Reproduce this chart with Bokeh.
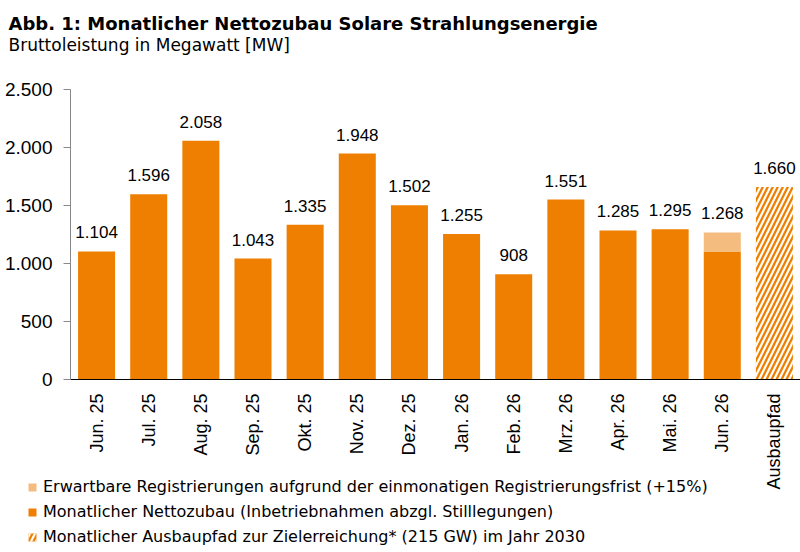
import math
from bokeh.plotting import figure
from bokeh.models import (Range1d, FixedTicker, ColumnDataSource,
                          Label, Legend, LegendItem)
from bokeh.core.properties import value
from bokeh.embed import file_html
from bokeh.resources import INLINE

# ---- data ----
categories = ["Jun. 25", "Jul. 25", "Aug. 25", "Sep. 25", "Okt. 25", "Nov. 25",
              "Dez. 25", "Jan. 26", "Feb. 26", "Mrz. 26", "Apr. 26", "Mai. 26",
              "Jun. 26"]
netto = [1104, 1596, 2058, 1043, 1335, 1948, 1502, 1255, 908, 1551, 1285, 1295, 1103]
erwartbar = [0, 0, 0, 0, 0, 0, 0, 0, 0, 0, 0, 0, 165]
pfad_category = "Ausbaupfad"
pfad_value = 1660
y_ticks = [0, 500, 1000, 1500, 2000, 2500]
y_tick_labels = ["0", "500", "1.000", "1.500", "2.000", "2.500"]

title_text = "Abb. 1: Monatlicher Nettozubau Solare Strahlungsenergie"
subtitle_text = "Bruttoleistung in Megawatt [MW]"
legend_labels = [
    "Erwartbare Registrierungen aufgrund der einmonatigen Registrierungsfrist (+15%)",
    "Monatlicher Nettozubau (Inbetriebnahmen abzgl. Stilllegungen)",
    "Monatlicher Ausbaupfad zur Zielerreichung* (215 GW) im Jahr 2030",
]

ORANGE = "#EE7F00"
LIGHT = "#F5BC80"
TEXT_FONT = "DejaVu Sans"

# ---- layout geometry (pixels) ----
W, H = 800, 552
PLOT_LEFT, PLOT_TOP, PLOT_BOTTOM = 70, 89, 379
Y_MAX = 2500


def de_fmt(v):
    return f"{int(round(v)):,}".replace(",", ".")


all_names = categories + [pfad_category]
n_cat = len(all_names)
xs = list(range(len(categories)))
x_pfad = len(categories)
totals = [n + e for n, e in zip(netto, erwartbar)]

# ranges chosen so that the category area spans x=70..800 and 0..2500 spans y=379..89
px_per_cat = (W - PLOT_LEFT) / n_cat
x_start = -0.5 - PLOT_LEFT / px_per_cat
x_end = n_cat - 0.5
px_per_unit = (PLOT_BOTTOM - PLOT_TOP) / Y_MAX
y_start = -(H - PLOT_BOTTOM) / px_per_unit
y_end = Y_MAX + PLOT_TOP / px_per_unit

p = figure(x_range=Range1d(x_start, x_end), y_range=Range1d(y_start, y_end),
           width=W, height=H, output_backend="svg", toolbar_location=None,
           min_border=0, min_border_left=0, min_border_right=0,
           min_border_top=0, min_border_bottom=0)
p.outline_line_color = None
p.xgrid.visible = False
p.ygrid.visible = False
p.background_fill_color = "white"
p.border_fill_color = "white"

src_net = ColumnDataSource(dict(x=xs, top=netto))
src_exp = ColumnDataSource(dict(x=xs, bottom=netto, top=totals))
src_pfad = ColumnDataSource(dict(x=[x_pfad], top=[pfad_value]))

r_net = p.vbar(x="x", top="top", width=0.71, source=src_net,
               fill_color=ORANGE, line_color=None)
r_exp = p.vbar(x="x", bottom="bottom", top="top", width=0.71, source=src_exp,
               fill_color=LIGHT, line_color=None)
r_pfad = p.vbar(x="x", top="top", width=0.71, source=src_pfad,
                fill_color=ORANGE, line_color=None,
                hatch_pattern="/", hatch_color="white",
                hatch_weight=2.2, hatch_scale=10)

label_vals = totals + [pfad_value]
src_lab = ColumnDataSource(dict(x=xs + [x_pfad], y=label_vals,
                                text=[de_fmt(v) for v in label_vals]))
p.text(x="x", y="y", text="text", source=src_lab, text_align="center",
       text_baseline="alphabetic", y_offset=-19,
       text_font=value("Liberation Sans"), text_font_size="17px",
       text_color="#000000")

# axes (drawn at fixed data locations)
yax = p.yaxis[0]
yax.fixed_location = -0.5
yax.bounds = (0, Y_MAX)
yax.ticker = FixedTicker(ticks=y_ticks)
yax.major_label_overrides = {t: l for t, l in zip(y_ticks, y_tick_labels)}
yax.minor_tick_line_color = None
yax.major_tick_out = 7
yax.major_tick_in = 0
yax.axis_line_color = "#888888"
yax.major_tick_line_color = "#888888"
yax.major_label_standoff = 11
yax.major_label_text_font = "Liberation Sans"
yax.major_label_text_font_size = "19px"
yax.major_label_text_color = "#000000"

xax = p.xaxis[0]
xax.fixed_location = 0
xax.bounds = (-0.5, n_cat - 0.5)
xax.ticker = FixedTicker(ticks=list(range(n_cat)))
xax.major_label_overrides = {i: name for i, name in enumerate(all_names)}
xax.minor_tick_line_color = None
xax.major_label_orientation = math.pi / 2
xax.major_tick_line_color = None
xax.major_tick_out = 0
xax.major_tick_in = 0
xax.axis_line_color = "#000000"
xax.major_label_standoff = 14
xax.major_label_text_font = "Liberation Sans"
xax.major_label_text_font_size = "18px"
xax.major_label_text_color = "#000000"

# title / subtitle (screen units from bottom-left of the frame = canvas)
p.add_layout(Label(x=8, y=H - 23, x_units="screen", y_units="screen",
                   text=title_text, text_font=TEXT_FONT, text_font_style="bold",
                   text_font_size="18px", text_color="#000000",
                   text_baseline="alphabetic"))
p.add_layout(Label(x=8, y=H - 44, x_units="screen", y_units="screen",
                   text=subtitle_text, text_font=TEXT_FONT,
                   text_font_size="17px", text_color="#000000",
                   text_baseline="alphabetic"))

legend = Legend(items=[LegendItem(label=legend_labels[0], renderers=[r_exp]),
                       LegendItem(label=legend_labels[1], renderers=[r_net]),
                       LegendItem(label=legend_labels[2], renderers=[r_pfad])],
                location=(27, 6), orientation="vertical",
                border_line_color=None, background_fill_alpha=0,
                padding=0, margin=0, spacing=6,
                glyph_width=10, glyph_height=10, label_standoff=6,
                label_text_font=TEXT_FONT, label_text_font_size="16px",
                label_text_color="#000000")
p.add_layout(legend)

open("out.html", "w").write(file_html(p, INLINE))
